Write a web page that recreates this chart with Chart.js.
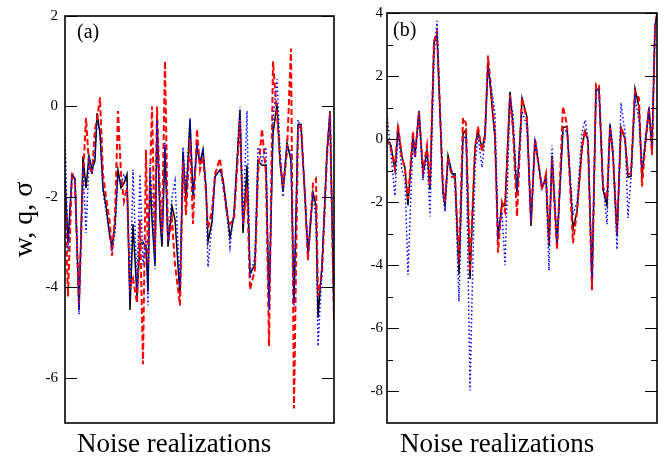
<!DOCTYPE html>
<html>
<head>
<meta charset="utf-8">
<script src="https://cdn.jsdelivr.net/npm/chart.js@4.4.1/dist/chart.umd.min.js"></script>
<style>
  body { margin: 0; background: #fff; }
  #wrap { position: relative; width: 669px; height: 461px; overflow: hidden; font-family: "Liberation Serif", serif; color: #000; }
  canvas { position: absolute; top: 0; }
  .lbl { position: absolute; white-space: nowrap; }
  .xt { font-size: 27px; line-height: 27px; top: 430px; }
  .pn { font-size: 20px; line-height: 20px; }
</style>
</head>
<body>
<div id="wrap">
  <canvas id="chartA" width="345" height="461" style="left:0"></canvas>
  <canvas id="chartB" width="324" height="461" style="left:345px"></canvas>
  <div class="lbl pn" style="left:77px; top:21px">(a)</div>
  <div class="lbl pn" style="left:393px; top:19px">(b)</div>
  <div class="lbl xt" style="left:77px">Noise realizations</div>
  <div class="lbl xt" style="left:400px">Noise realizations</div>
</div>
<script>
// panel (a): positions of the realizations and the three curves
const xA = [0, 3, 7, 10, 14, 18, 21, 24, 27, 30, 32, 35, 38, 41, 45, 47, 50, 53, 56, 59, 62, 65, 68, 72, 75, 78, 81, 83, 85, 87,
  90, 92, 95, 97, 100, 103, 107, 110, 115, 118, 121, 125, 128, 132, 135, 138, 141, 143, 147, 150, 155, 158, 162, 165, 169, 175, 178, 182, 185, 190,
  193, 197, 201, 204, 208, 212, 215, 218, 222, 226, 229, 233, 236, 240, 243, 248, 251, 253, 257, 262, 265, 269];
const wA = [-1.6, -3.0, -1.5, -1.6, -4.5, -1.1, -1.8, -1.1, -1.4, -1.2, -0.15, -0.6, -1.8, -2.2, -2.9, -3.1, -2.6, -1.4, -1.8, -1.7,
  -1.5, -4.5, -2.6, -4.2, -3.05, -3.0, -3.1, -4.1, -1.5, -2.5, -3.5, -0.25, -2.5, -3.1, -0.9, -3.1, -2.2, -2.5, -4.2, -1.0,
  -2.1, -0.3, -1.97, -0.9, -1.25, -0.95, -1.8, -3.0, -2.55, -1.55, -1.4, -1.6, -2.3, -2.9, -2.4, -0.1, -2.8, -1.3, -3.7, -3.5,
  -1.2, -1.3, -1.3, -4.4, -0.6, 0.05, -1.25, -1.86, -0.8, -1.2, -4.35, -0.4, -0.4, -2.0, -3.3, -1.9, -2.2, -4.67, -3.5, -1.0, -0.1, -4.6];
const qA = [-1.8, -4.2, -1.45, -1.7, -4.4, -1.6, -0.25, -1.3, -1.5, -0.5, -0.3, 0.2, -1.5, -2.0, -2.6, -3.3, -2.4, -0.1, -1.5, -2.1,
  -1.8, -4.0, -3.8, -4.35, -2.5, -5.7, -0.96, -3.5, -1.6, 0.0, -3.2, 0.0, -2.0, -2.8, 1.0, -3.0, -2.5, -3.5, -4.4, -1.2,
  -2.4, -0.7, -2.6, -0.5, -1.4, -1.1, -1.9, -2.7, -2.3, -1.5, -1.15, -1.7, -2.4, -2.6, -2.5, -0.3, -2.6, -1.8, -4.05, -3.6,
  -1.5, -0.5, -1.5, -5.3, 1.0, -0.2, -1.1, -1.8, -1.0, 1.28, -6.68, -0.5, -0.4, -2.0, -3.4, -1.7, -1.6, -4.2, -3.7, -1.1, -0.15, -4.8];
const sA = [-0.6, -3.2, -1.5, -1.6, -4.6, -1.3, -2.8, -1.2, -1.5, -1.0, -0.4, -0.5, -1.9, -2.3, -2.9, -3.2, -2.8, -1.5, -1.7, -1.5,
  -1.7, -4.3, -1.4, -4.0, -1.5, -3.5, -2.9, -4.4, -1.3, -2.0, -3.6, -0.3, -2.3, -3.0, -0.8, -3.0, -2.0, -1.65, -4.0, -0.9,
  -1.9, -0.25, -2.0, -0.9, -1.2, -1.0, -1.8, -3.55, -2.6, -1.55, -1.4, -1.7, -2.4, -3.1, -2.3, 0.0, -2.6, -0.1, -3.8, -3.3,
  -0.9, -1.2, -0.9, -4.5, -0.3, 0.6, -1.0, -2.0, -0.9, -1.0, -4.4, -0.3, -0.5, -2.0, -3.2, -1.9, -2.5, -5.3, -3.6, -1.0, -0.2, -4.6];
const yTicksA = [2, 0, -2, -4, -6];

// panel (b)
const xB = [0, 4, 8, 11, 15, 18, 21, 26, 28, 32, 36, 40, 43, 47, 50, 56, 58, 61, 65, 68, 72, 76, 79, 83, 88, 91, 95, 98, 101, 108,
  111, 115, 118, 123, 126, 130, 135, 140, 144, 148, 155, 159, 162, 165, 170, 176, 180, 186, 190, 195, 198, 201, 205, 209, 212, 216,
  220, 223, 226, 230, 234, 238, 241, 244, 248, 252, 255, 258, 262, 265, 268, 270];
const wB = [0.0, -0.2, -1.0, 0.37, -0.57, -0.9, -2.1, 0.15, -0.5, 0.9, -1.1, -0.35, -1.6, 3.07, 3.33, -1.7, -2.1, -0.52, -1.1, -1.1,
  -4.28, 0.16, 0.3, -4.43, -0.25, 0.26, -0.3, 0.15, 2.45, 0.0, -3.17, -2.03, -2.1, 1.5, 0.4, -1.8, 1.3, 0.7, -2.75, 0.0,
  -1.56, -1.2, -3.4, -0.52, -3.4, 0.37, 0.4, -2.85, -2.3, -0.25, 0.26, -0.04, -4.58, 1.56, 1.6, -1.6, -2.1, 0.47, -0.5, -3.06,
  0.37, 0.0, -1.2, -1.18, 1.6, 1.0, -1.2, -0.2, 1.0, -0.35, 3.6, 3.97];
const qB = [0.0, -0.3, -0.9, 0.45, -0.6, -0.95, -1.9, 0.25, -0.6, 0.85, -1.0, -0.2, -1.5, 3.1, 3.4, -1.5, -2.0, -0.6, -1.2, -1.2,
  -4.0, 0.67, 0.5, -4.2, -0.3, 0.4, -0.4, 0.1, 2.65, 0.2, -3.6, -2.0, -2.3, 1.4, 0.3, -2.45, 1.3, 0.6, -2.65, 0.0,
  -1.6, -1.1, -3.3, -0.6, -3.5, 1.04, 0.45, -3.3, -2.3, -0.3, 0.3, -0.1, -4.8, 1.75, 1.7, -1.5, -1.9, 0.4, -0.5, -3.0,
  0.4, 0.0, -1.1, -1.1, 1.5, 1.3, -1.5, -0.3, 1.0, -0.5, 3.5, 4.0];
const sB = [0.8, -0.5, -1.8, 0.2, -1.0, -1.3, -4.3, 0.0, -0.6, 0.8, -1.3, -0.5, -2.45, 2.6, 3.75, -1.8, -2.3, -0.7, -1.0, -1.3,
  -5.15, 0.0, 0.1, -7.97, -0.9, 0.1, -0.9, 0.0, 2.3, 0.8, -3.0, -2.3, -4.0, 1.3, 0.8, -1.6, 0.9, 0.4, -2.6, -0.1,
  -1.5, -1.3, -4.17, -0.2, -3.3, 0.2, 0.3, -2.4, -2.0, 0.2, 0.6, 0.0, -4.4, 1.5, 1.6, -1.4, -2.7, 0.5, -0.3, -3.5,
  1.15, 0.2, -2.5, -1.2, 1.3, 0.6, -0.9, -0.1, 0.9, -0.2, 3.5, 4.0];
const yTicksB = [4, 2, 0, -2, -4, -6, -8];
const yMinorB = [3, 1, -1, -3, -5, -7];

const serif = "'Liberation Serif', 'Times New Roman', serif";

// box round the plot area with inward ticks on both sides
const framePlugin = {
  id: 'frame',
  afterDatasetsDraw(chart, args, opts) {
    const { ctx, chartArea: a, scales: { y } } = chart;
    ctx.save();
    ctx.strokeStyle = '#000';
    ctx.lineWidth = 1.6;
    ctx.strokeRect(a.left, a.top, a.right - a.left, a.bottom - a.top);
    ctx.lineWidth = 1.2;
    const marks = (vals, len) => vals.forEach(v => {
      const py = Math.round(y.getPixelForValue(v)) + 0.5;
      ctx.beginPath();
      ctx.moveTo(a.left, py); ctx.lineTo(a.left + len, py);
      ctx.moveTo(a.right, py); ctx.lineTo(a.right - len, py);
      ctx.stroke();
    });
    marks(opts.major || [], 12);
    marks(opts.minor || [], 6);
    ctx.restore();
  }
};

function pts(xs, ys) {
  return xs.map((x, i) => ({ x: x, y: ys[i] }));
}

function makePanel(id, xs, w, q, s, cfg) {
  const ctx = document.getElementById(id).getContext('2d');
  return new Chart(ctx, {
    type: 'line',
    data: {
      datasets: [
        { label: 'σ', data: pts(xs, s), borderColor: '#0000ff', borderWidth: 1.5, borderDash: [1.5, 2.5] },
        { label: 'q', data: pts(xs, q), borderColor: '#ff0000', borderWidth: 2, borderDash: [6, 3] },
        { label: 'w', data: pts(xs, w), borderColor: '#000000', borderWidth: 1.5 }
      ]
    },
    options: {
      responsive: false,
      animation: false,
      layout: { autoPadding: false, padding: { left: 0, right: cfg.padRight, top: 7, bottom: 38 } },
      elements: { point: { radius: 0 }, line: { tension: 0 } },
      plugins: {
        legend: { display: false },
        tooltip: { enabled: false },
        frame: { major: cfg.ticks, minor: cfg.minor }
      },
      scales: {
        x: { type: 'linear', min: 0, max: cfg.xMax, display: false },
        y: {
          min: cfg.yMin,
          max: cfg.yMax,
          afterFit: sc => { sc.width = cfg.axisWidth; },
          afterBuildTicks: sc => { sc.ticks = cfg.ticks.map(v => ({ value: v })); },
          grid: { display: false, drawTicks: false },
          border: { display: false },
          ticks: {
            color: '#000',
            padding: cfg.labelPad,
            font: { family: serif, size: 15 },
            callback: v => String(v)
          },
          title: cfg.title ? {
            display: true,
            text: cfg.title,
            color: '#000',
            font: { family: serif, size: 28 },
            padding: { top: 8, bottom: 0 }
          } : { display: false }
        }
      }
    },
    plugins: [framePlugin]
  });
}

makePanel('chartA', xA, wA, qA, sA, {
  xMax: 269, yMin: -7, yMax: 2, ticks: yTicksA, minor: [],
  axisWidth: 65, padRight: 11, labelPad: 7, title: 'w, q, σ'
});
makePanel('chartB', xB, wB, qB, sB, {
  xMax: 270, yMin: -9, yMax: 4, ticks: yTicksB, minor: yMinorB,
  axisWidth: 42, padRight: 12, labelPad: 4, title: null
});
</script>
</body>
</html>
